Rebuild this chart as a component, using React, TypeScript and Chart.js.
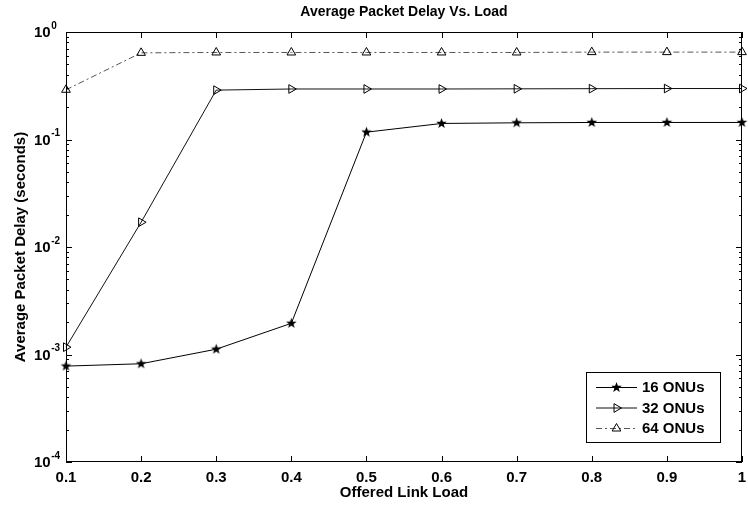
import React, { useEffect, useRef } from "react";
import { Chart, registerables } from "chart.js";
Chart.register(...registerables);

const chartTitle = "Average Packet Delay Vs. Load";
const xAxisTitle = "Offered Link Load";
const yAxisTitle = "Average Packet Delay (seconds)";

const loads = [0.1, 0.2, 0.3, 0.4, 0.5, 0.6, 0.7, 0.8, 0.9, 1.0];
const xTickLabels = ["0.1", "0.2", "0.3", "0.4", "0.5", "0.6", "0.7", "0.8", "0.9", "1"];
const yTickExponents = [0, -1, -2, -3, -4];
const seriesNames = ["16 ONUs", "32 ONUs", "64 ONUs"];

const delay16 = [0.00078, 0.00082, 0.00112, 0.00195, 0.117, 0.141, 0.143, 0.144, 0.144, 0.144];
const delay32 = [0.00117, 0.017, 0.288, 0.295, 0.295, 0.295, 0.296, 0.297, 0.298, 0.298];
const delay64 = [0.29, 0.64, 0.645, 0.645, 0.645, 0.645, 0.645, 0.65, 0.65, 0.65];

const FONT = "'Liberation Sans', Arial, Helvetica, sans-serif";

function makeStar(r: number): HTMLCanvasElement {
  const s = Math.ceil(r * 2 + 2);
  const c = document.createElement("canvas");
  c.width = s;
  c.height = s;
  const ctx = c.getContext("2d")!;
  ctx.beginPath();
  for (let i = 0; i < 10; i++) {
    const rad = i % 2 === 0 ? r : r * 0.42;
    const a = -Math.PI / 2 + (i * Math.PI) / 5;
    const x = s / 2 + rad * Math.cos(a);
    const y = s / 2 + rad * Math.sin(a);
    if (i === 0) ctx.moveTo(x, y);
    else ctx.lineTo(x, y);
  }
  ctx.closePath();
  ctx.fillStyle = "#000";
  ctx.fill();
  return c;
}

function drawTriangle(ctx: CanvasRenderingContext2D, x: number, y: number, r: number, rotDeg: number) {
  let rad = (rotDeg * Math.PI) / 180;
  ctx.beginPath();
  ctx.moveTo(x + Math.sin(rad) * r, y - Math.cos(rad) * r);
  rad += (2 * Math.PI) / 3;
  ctx.lineTo(x + Math.sin(rad) * r, y - Math.cos(rad) * r);
  rad += (2 * Math.PI) / 3;
  ctx.lineTo(x + Math.sin(rad) * r, y - Math.cos(rad) * r);
  ctx.closePath();
  ctx.stroke();
}

export default function App() {
  const ref = useRef<HTMLCanvasElement | null>(null);

  useEffect(() => {
    if (!ref.current) return;
    const star = makeStar(5.5);
    const seriesStyles = [
      { color: "#000", dash: [] as number[], marker: "star" },
      { color: "#111", dash: [] as number[], marker: "tri90" },
      { color: "#555", dash: [6, 3, 2, 3], marker: "tri0" },
    ];

    const framePlugin = {
      id: "frame",
      afterDatasetsDraw(chart: any) {
        const { ctx, chartArea } = chart;
        const { left, right, top, bottom } = chartArea;
        const x = chart.scales.x;
        const y = chart.scales.y;
        ctx.save();
        ctx.strokeStyle = "#000";
        ctx.lineWidth = 1;
        ctx.setLineDash([]);
        ctx.strokeRect(left + 0.5, top + 0.5, right - left - 1, bottom - top - 1);
        ctx.beginPath();
        loads.forEach((v) => {
          const px = Math.round(x.getPixelForValue(v)) + 0.5;
          ctx.moveTo(px, bottom);
          ctx.lineTo(px, bottom - 6);
          ctx.moveTo(px, top);
          ctx.lineTo(px, top + 6);
        });
        for (let e = yTickExponents[yTickExponents.length - 1]; e <= yTickExponents[0]; e++) {
          const py = Math.round(y.getPixelForValue(Math.pow(10, e))) + 0.5;
          ctx.moveTo(left, py);
          ctx.lineTo(left + 6, py);
          ctx.moveTo(right, py);
          ctx.lineTo(right - 6, py);
          if (e < yTickExponents[0]) {
            for (let m = 2; m <= 9; m++) {
              const pm = Math.round(y.getPixelForValue(m * Math.pow(10, e))) + 0.5;
              ctx.moveTo(left, pm);
              ctx.lineTo(left + 3, pm);
              ctx.moveTo(right, pm);
              ctx.lineTo(right - 3, pm);
            }
          }
        }
        ctx.stroke();

        ctx.fillStyle = "#000";
        ctx.font = `bold 15px ${FONT}`;
        ctx.textAlign = "center";
        ctx.textBaseline = "middle";
        loads.forEach((v, i) => {
          ctx.fillText(xTickLabels[i], x.getPixelForValue(v), bottom + 16);
        });
        yTickExponents.forEach((e) => {
          const py = y.getPixelForValue(Math.pow(10, e));
          ctx.textAlign = "left";
          ctx.font = `bold 15px ${FONT}`;
          ctx.fillText("10", 34, py + 1);
          const w = ctx.measureText("10").width;
          ctx.font = `bold 10px ${FONT}`;
          ctx.fillText(String(e), 34 + w + 0.5, py - 6);
        });
        ctx.restore();
      },
      afterDraw(chart: any) {
        const { ctx } = chart;
        ctx.save();
        const bx = 586.5, by = 372.5, bw = 134, bh = 70;
        ctx.fillStyle = "#fff";
        ctx.fillRect(bx, by, bw, bh);
        ctx.strokeStyle = "#000";
        ctx.lineWidth = 1;
        ctx.strokeRect(bx, by, bw, bh);
        const rows = [387, 407.5, 428];
        seriesNames.forEach((name, i) => {
          const st = seriesStyles[i];
          const ry = rows[i];
          ctx.strokeStyle = st.color;
          ctx.setLineDash(st.dash);
          ctx.beginPath();
          ctx.moveTo(596, ry + 0.5);
          ctx.lineTo(637, ry + 0.5);
          ctx.stroke();
          ctx.setLineDash([]);
          ctx.strokeStyle = "#000";
          if (st.marker === "star") {
            ctx.drawImage(star, 616.5 - star.width / 2, ry + 0.5 - star.height / 2);
          } else if (st.marker === "tri90") {
            drawTriangle(ctx, 616.5, ry + 0.5, 5, 90);
          } else {
            drawTriangle(ctx, 616.5, ry + 0.5, 5, 0);
          }
          ctx.fillStyle = "#000";
          ctx.font = `bold 15px ${FONT}`;
          ctx.textAlign = "left";
          ctx.textBaseline = "middle";
          ctx.fillText(name, 642, ry + 1);
        });
        ctx.restore();
      },
    };

    const mk = (vals: number[]) => loads.map((v, i) => ({ x: v, y: vals[i] }));

    const chart = new Chart(ref.current, {
      type: "line",
      data: {
        datasets: [
          {
            label: seriesNames[0],
            data: mk(delay16),
            borderColor: seriesStyles[0].color,
            borderWidth: 1,
            pointStyle: star as any,
            pointRadius: 5,
            tension: 0,
            clip: false as any,
          },
          {
            label: seriesNames[1],
            data: mk(delay32),
            borderColor: seriesStyles[1].color,
            borderWidth: 1,
            pointStyle: "triangle",
            rotation: 90,
            pointRadius: 5,
            pointBorderColor: "#000",
            pointBackgroundColor: "rgba(0,0,0,0)",
            pointBorderWidth: 1,
            tension: 0,
            clip: false as any,
          },
          {
            label: seriesNames[2],
            data: mk(delay64),
            borderColor: seriesStyles[2].color,
            borderDash: seriesStyles[2].dash,
            borderWidth: 1,
            pointStyle: "triangle",
            pointRadius: 5,
            pointBorderColor: "#000",
            pointBackgroundColor: "rgba(0,0,0,0)",
            pointBorderWidth: 1,
            tension: 0,
            clip: false as any,
          },
        ],
      },
      options: {
        responsive: false,
        animation: false,
        layout: { padding: { left: 0, right: 3, top: 0, bottom: 0 } },
        plugins: {
          legend: { display: false },
          tooltip: { enabled: false },
          title: {
            display: true,
            text: chartTitle,
            fullSize: false,
            color: "#000",
            font: { family: FONT, size: 14, weight: "bold" },
            padding: { top: 4, bottom: 11.2 },
          },
        },
        scales: {
          x: {
            type: "linear",
            min: 0.1,
            max: 1,
            grid: { display: false },
            border: { display: false },
            ticks: { display: false },
            title: {
              display: true,
              text: xAxisTitle,
              color: "#000",
              font: { family: FONT, size: 15, weight: "bold" },
              padding: { top: 0, bottom: 3 },
            },
            afterFit: (s: any) => {
              s.height = 43;
              s.paddingLeft = 0;
              s.paddingRight = 0;
            },
          },
          y: {
            type: "logarithmic",
            min: 1e-4,
            max: 1,
            grid: { display: false },
            border: { display: false },
            ticks: { display: false },
            title: {
              display: true,
              text: yAxisTitle,
              color: "#000",
              font: { family: FONT, size: 15, weight: "bold" },
              padding: { top: 12, bottom: 0 },
            },
            afterFit: (s: any) => {
              s.width = 66;
              s.paddingTop = 0;
              s.paddingBottom = 0;
            },
          },
        },
      },
      plugins: [framePlugin],
    });
    return () => chart.destroy();
  }, []);

  return (
    <div style={{ position: "fixed", left: 0, top: 0, width: 748, height: 505, background: "#fff" }}>
      <canvas ref={ref} width={748} height={505} />
    </div>
  );
}
